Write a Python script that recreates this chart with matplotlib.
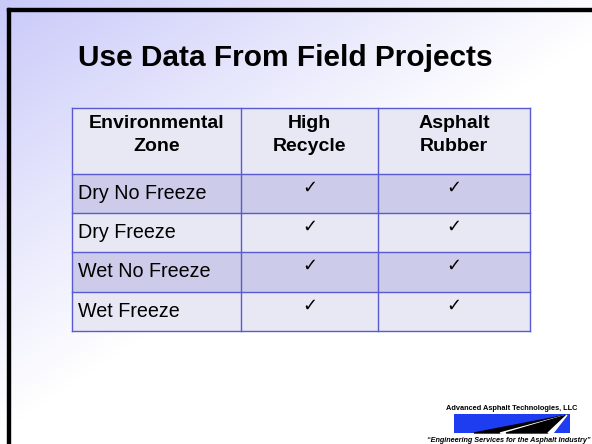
import numpy as np
import matplotlib
matplotlib.use("Agg")
import matplotlib.pyplot as plt
from matplotlib.patches import Rectangle, Polygon

plt.rcParams['font.family'] = ['Liberation Sans', 'DejaVu Sans']

# slide content
title = "Use Data From Field Projects"
headers = ["Environmental\nZone", "High\nRecycle", "Asphalt\nRubber"]
zones = ["Dry No Freeze", "Dry Freeze", "Wet No Freeze", "Wet Freeze"]
high_recycle = [True, True, True, True]
asphalt_rubber = [True, True, True, True]
company = "Advanced Asphalt Technologies, LLC"
tagline = "\u201cEngineering Services for the Asphalt Industry\u201d"

W, H = 592, 444
fig = plt.figure(figsize=(W / 100, H / 100), dpi=100)
ax = fig.add_axes([0, 0, 1, 1])
ax.set_xlim(0, W)
ax.set_ylim(H, 0)
ax.axis('off')

# background gradient lavender -> white
xx, yy = np.meshgrid(np.arange(W), np.arange(H))
t = np.clip(1 - (xx / 650 + yy / 430), 0, 1)
c0 = np.array([1.0, 1.0, 1.0])
c1 = np.array([0.79, 0.79, 0.98])
img = c0 + (c1 - c0) * t[..., None]
ax.imshow(img, extent=[0, W, H, 0], zorder=0, aspect='auto')

# slide frame (top and left black edges)
ax.add_patch(Rectangle((7, 8), W, 3, color='black', zorder=5))
ax.add_patch(Rectangle((7, 8), 3, H, color='black', zorder=5))

ax.text(78, 58, title, fontsize=21.5, fontweight='bold', va='center', ha='left', zorder=6)

# table
col_edges = [72, 241, 378, 530]
row_edges = [108, 174, 213, 252, 292, 331]
light = '#E8E8F5'
dark = '#CCCCEA'
line_c = '#5959D0'

for i in range(len(row_edges) - 1):
    fc = dark if i in (1, 3) else light
    ax.add_patch(Rectangle((col_edges[0], row_edges[i]), col_edges[-1] - col_edges[0],
                           row_edges[i + 1] - row_edges[i], facecolor=fc, edgecolor='none', zorder=2))
for x in col_edges:
    ax.plot([x, x], [row_edges[0], row_edges[-1]], color=line_c, lw=1.0, zorder=3)
for y in row_edges:
    ax.plot([col_edges[0], col_edges[-1]], [y, y], color=line_c, lw=1.0, zorder=3)

for j, h in enumerate(headers):
    cx = (col_edges[j] + col_edges[j + 1]) / 2
    ax.text(cx, 135, h, fontsize=14, fontweight='bold', ha='center', va='center',
            linespacing=1.4, zorder=4)

for i, z in enumerate(zones):
    top = row_edges[i + 1]
    ax.text(78, top + 19, z, fontsize=14.2, ha='left', va='center', zorder=4)
    for j, flag in enumerate([high_recycle[i], asphalt_rubber[i]]):
        if flag:
            cx = (col_edges[j + 1] + col_edges[j + 2]) / 2
            ax.text(cx, top + 14, "\u2713", fontsize=13, fontweight='bold', ha='center',
                    va='center', family=['DejaVu Sans'], zorder=4)

# logo
ax.text(512, 408, company, fontsize=5.3, fontweight='bold', ha='center', va='center', zorder=4)
ax.add_patch(Rectangle((454, 414), 116, 19, facecolor='#1E3CF0', edgecolor='none', zorder=3))
apex = (567, 415)
ax.add_patch(Polygon([(474, 433), (500, 433), apex], closed=True, color='black', zorder=4))
ax.add_patch(Polygon([(500, 433), (506, 433), apex], closed=True, color='white', zorder=4))
ax.add_patch(Polygon([(506, 433), (548, 433), apex], closed=True, color='black', zorder=4))
ax.add_patch(Polygon([(548, 433), (553, 433), apex], closed=True, color='white', zorder=4))
ax.text(509, 440, tagline, fontsize=5.25, fontweight='bold', style='italic',
        ha='center', va='center', zorder=4)

fig.savefig("out.png", dpi=100)
